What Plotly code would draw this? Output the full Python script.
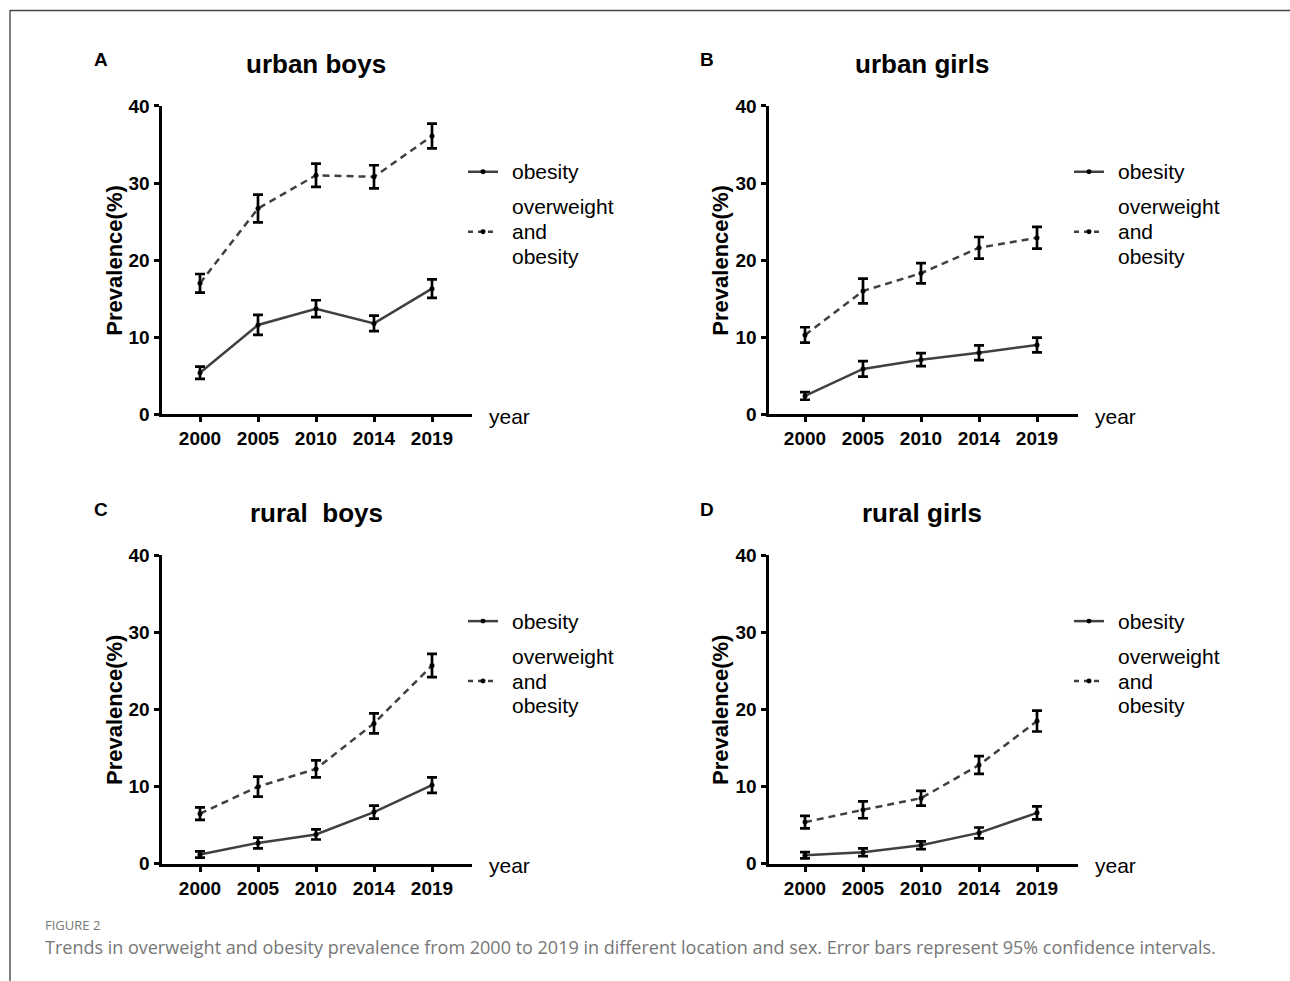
import plotly.graph_objects as go

# ---------------- data ----------------
years = ["2000", "2005", "2010", "2014", "2019"]

urban_boys_obesity = [5.4, 11.6, 13.7, 11.8, 16.3]
urban_boys_obesity_ci = [0.8, 1.3, 1.1, 1.0, 1.2]
urban_boys_overweight = [17.0, 26.7, 31.0, 30.8, 36.1]
urban_boys_overweight_ci = [1.2, 1.8, 1.5, 1.5, 1.6]

urban_girls_obesity = [2.4, 5.9, 7.1, 8.0, 9.0]
urban_girls_obesity_ci = [0.5, 1.0, 0.85, 0.95, 0.95]
urban_girls_overweight = [10.3, 16.0, 18.3, 21.6, 22.9]
urban_girls_overweight_ci = [1.0, 1.6, 1.3, 1.4, 1.4]

rural_boys_obesity = [1.2, 2.7, 3.8, 6.7, 10.2]
rural_boys_obesity_ci = [0.4, 0.7, 0.65, 0.85, 1.0]
rural_boys_overweight = [6.5, 10.0, 12.3, 18.2, 25.7]
rural_boys_overweight_ci = [0.8, 1.3, 1.1, 1.3, 1.5]

rural_girls_obesity = [1.1, 1.5, 2.4, 4.0, 6.6]
rural_girls_obesity_ci = [0.4, 0.5, 0.5, 0.7, 0.85]
rural_girls_overweight = [5.4, 7.0, 8.5, 12.8, 18.5]
rural_girls_overweight_ci = [0.8, 1.1, 0.95, 1.15, 1.35]

panel_letters = ["A", "B", "C", "D"]
panel_titles = ["urban boys", "urban girls", "rural  boys", "rural girls"]
legend_obesity = "obesity"
legend_overweight_lines = ["overweight", "and", "obesity"]
y_ticks = [0, 10, 20, 30, 40]
caption_label = "FIGURE 2"
caption_text = ("Trends in overweight and obesity prevalence from 2000 to 2019 in different "
                "location and sex. Error bars represent 95% confidence intervals.")

panels = [
    (urban_boys_obesity, urban_boys_obesity_ci, urban_boys_overweight, urban_boys_overweight_ci),
    (urban_girls_obesity, urban_girls_obesity_ci, urban_girls_overweight, urban_girls_overweight_ci),
    (rural_boys_obesity, rural_boys_obesity_ci, rural_boys_overweight, rural_boys_overweight_ci),
    (rural_girls_obesity, rural_girls_obesity_ci, rural_girls_overweight, rural_girls_overweight_ci),
]

# ---------------- geometry (target pixels on the page) ----------------
W, H = 1290, 981
def px(x):
    return x / W
def py(y):
    # compensate for the vertical mapping observed in the rendered page
    return 1 - ((y - 10) / 0.98) / H

panel_geo = [
    dict(x0=161.5, x1=472, first=200, yb=415, yt=106, dx=0, dy=0),
    dict(x0=768.5, x1=1078, first=805, yb=415, yt=106, dx=606, dy=0),
    dict(x0=161.5, x1=472, first=200, yb=865, yt=556, dx=0, dy=450),
    dict(x0=768.5, x1=1078, first=805, yb=865, yt=556, dx=606, dy=450),
]

FONT = "Liberation Sans, Arial, Helvetica, sans-serif"
LINE_COL = "#404040"
DASH = "7px,5px"

fig = go.Figure()
layout_axes = {}
annotations = []
shapes = []

def label(x, y, text, size, xanchor="left", angle=0, color="black", family=FONT):
    annotations.append(dict(x=px(x), y=py(y), xref="paper", yref="paper", text=text,
                            showarrow=False, textangle=angle,
                            font=dict(family=family, size=size, color=color),
                            xanchor=xanchor, yanchor="middle", align="left"))

for i, (ob, ob_ci, ow, ow_ci) in enumerate(panels):
    g = panel_geo[i]
    n = i + 1
    xa = "x" if n == 1 else f"x{n}"
    ya = "y" if n == 1 else f"y{n}"
    fig.add_trace(go.Scatter(
        x=years, y=ow, xaxis=xa, yaxis=ya, mode="lines+markers",
        line=dict(color=LINE_COL, width=2.5, dash=DASH),
        marker=dict(color="black", size=5),
        error_y=dict(type="data", array=ow_ci, visible=True, color="black", thickness=2.7, width=5),
        showlegend=False, cliponaxis=False,
    ))
    fig.add_trace(go.Scatter(
        x=years, y=ob, xaxis=xa, yaxis=ya, mode="lines+markers",
        line=dict(color=LINE_COL, width=2.5),
        marker=dict(color="black", size=5),
        error_y=dict(type="data", array=ob_ci, visible=True, color="black", thickness=2.7, width=5),
        showlegend=False, cliponaxis=False,
    ))

    step = 58.0
    rng = [(g["x0"] - g["first"]) / step, (g["x1"] - g["first"]) / step]
    xkey = "xaxis" if n == 1 else f"xaxis{n}"
    ykey = "yaxis" if n == 1 else f"yaxis{n}"
    layout_axes[xkey] = dict(
        domain=[px(g["x0"]), px(g["x1"])], anchor=ya, type="category",
        categoryorder="array", categoryarray=years, range=rng,
        showline=True, linecolor="black", linewidth=3, showgrid=False, zeroline=False,
        ticks="outside", ticklen=5, tickwidth=2.5, tickcolor="black",
        tickfont=dict(family=FONT, size=19, color="black", weight="bold"),
    )
    layout_axes[ykey] = dict(
        domain=[py(g["yb"]), py(g["yt"])], anchor=xa, range=[0, 40],
        tickvals=y_ticks, showline=True, linecolor="black", linewidth=3,
        showgrid=False, zeroline=False,
        ticks="outside", ticklen=5, tickwidth=2.5, tickcolor="black",
        tickfont=dict(family=FONT, size=19, color="black", weight="bold"),
    )

    dx, dy = g["dx"], g["dy"]
    label(101 + dx, 60 + dy, f"<b>{panel_letters[i]}</b>", 19, xanchor="center")
    label(316 + dx, 64 + dy, f"<b>{panel_titles[i].replace('  ', '&nbsp; ')}</b>", 26, xanchor="center")
    label(115 + dx, 261 + dy, "<b>Prevalence(%)</b>", 22, xanchor="center", angle=-90)
    label(487 + dx, 417 + dy, "year", 21)
    label(510 + dx, 172 + dy, legend_obesity, 21)
    for k, t in enumerate(legend_overweight_lines):
        label(510 + dx, 207 + 25 * k + dy, t, 21)
    shapes.append(dict(type="line", xref="paper", yref="paper",
                       x0=px(468 + dx), x1=px(498 + dx), y0=py(172 + dy), y1=py(172 + dy),
                       line=dict(color=LINE_COL, width=2.5)))
    shapes.append(dict(type="line", xref="paper", yref="paper",
                       x0=px(468 + dx), x1=px(498 + dx), y0=py(232 + dy), y1=py(232 + dy),
                       line=dict(color=LINE_COL, width=2.5, dash="5px,5px")))
    for yy in (172, 232):
        shapes.append(dict(type="circle", xref="paper", yref="paper",
                           x0=px(480.5 + dx), x1=px(485.5 + dx),
                           y0=py(yy + 2.5 + dy), y1=py(yy - 2.5 + dy),
                           fillcolor="black", line=dict(color="black", width=0)))

label(43, 926, caption_label, 13, color="#777777", family="Open Sans, Lato, sans-serif")
label(43, 948, caption_text, 18, color="#777777", family="Open Sans, Lato, sans-serif")

shapes.append(dict(type="line", xref="paper", yref="paper", x0=px(10), x1=px(10),
                   y0=py(10), y1=py(1000), line=dict(color="#555555", width=1.5)))
shapes.append(dict(type="line", xref="paper", yref="paper", x0=px(10), x1=px(1290),
                   y0=py(10.5), y1=py(10.5), line=dict(color="#444444", width=1.5)))

fig.update_layout(
    width=W, height=H, autosize=False,
    margin=dict(l=0, r=0, t=0, b=0),
    paper_bgcolor="white", plot_bgcolor="white",
    annotations=annotations, shapes=shapes,
    showlegend=False,
    **layout_axes,
)

fig.write_html("out.html", config={"displayModeBar": False},
               post_script="document.body.style.margin='0';document.body.style.overflow='hidden';")
